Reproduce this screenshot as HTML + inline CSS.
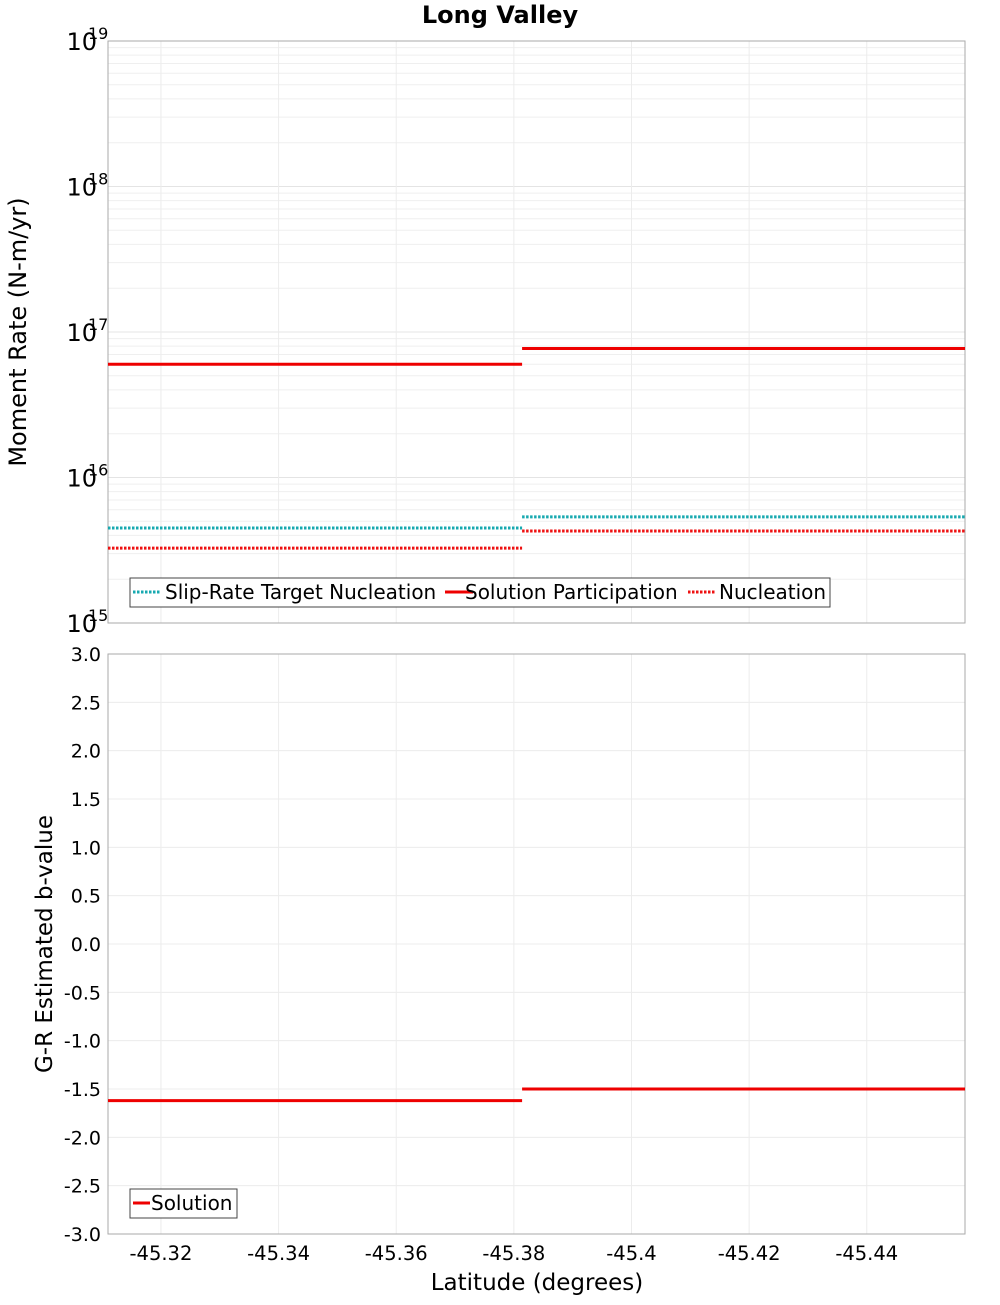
<!DOCTYPE html>
<html><head><meta charset="utf-8"><style>
body{margin:0;background:#fff;}
svg text{font-family:"DejaVu Sans","Liberation Sans",sans-serif;}
</style></head><body>
<svg id="c" width="1000" height="1300" xmlns="http://www.w3.org/2000/svg"></svg>
<script>
const xTicks=[-45.32,-45.34,-45.36,-45.38,-45.4,-45.42,-45.44];
const xTickLabels=["-45.32","-45.34","-45.36","-45.38","-45.4","-45.42","-45.44"];
const segEdges=[-45.311,-45.3814,-45.4567];
const slipTarget=[4.5e15,5.36e15];
const solutionPart=[6.0e16,7.7e16];
const nucleation=[3.27e15,4.29e15];
const bValues=[-1.62,-1.50];
const decades=[15,16,17,18,19];
const bTicks=[3,2.5,2,1.5,1,0.5,0,-0.5,-1,-1.5,-2,-2.5,-3];
const bTickLabels=["3.0","2.5","2.0","1.5","1.0","0.5","0.0","-0.5","-1.0","-1.5","-2.0","-2.5","-3.0"];

const NS="http://www.w3.org/2000/svg",svg=document.getElementById('c');
function mk(t,a,p){const e=document.createElementNS(NS,t);for(const k in a)e.setAttribute(k,a[k]);(p||svg).appendChild(e);return e;}
const L=108,R=965,T1=41,B1=623,T2=654,B2=1234;
const xs=v=>L+(v-segEdges[0])/(segEdges[2]-segEdges[0])*(R-L);
const ys1=v=>B1-(Math.log10(v)-15)/4*(B1-T1);
const ys2=v=>B2-(v+3)/6*(B2-T2);

let t=mk('text',{x:500,y:23,'text-anchor':'middle','font-size':24,'font-weight':'bold'});t.textContent='Long Valley';



for(let d=15;d<19;d++)for(let m=1;m<10;m++){const y=ys1(m*Math.pow(10,d));
 const g=mk('line',{x1:L,x2:R,y1:y,y2:y,stroke:m==1?'#e4e4e4':'#efefef','stroke-width':1});
 }
bTicks.forEach(v=>{const g=mk('line',{x1:L,x2:R,y1:ys2(v),y2:ys2(v),stroke:'#ececec'});
 });
xTicks.forEach((v,i)=>{[[T1,B1],[T2,B2]].forEach(p=>{const g=mk('line',{x1:xs(v),x2:xs(v),y1:p[0],y2:p[1],stroke:'#ececec'});
 });
 const tl=mk('text',{x:xs(v),y:1260,'text-anchor':'middle','font-size':19.5});tl.textContent=xTickLabels[i];
 });
let f=mk('rect',{x:L,y:T1,width:R-L,height:B1-T1,fill:'none',stroke:'#aaa'});

f=mk('rect',{x:L,y:T2,width:R-L,height:B2-T2,fill:'none',stroke:'#aaa'});


decades.forEach(d=>{const y=ys1(Math.pow(10,d));
 const a=mk('text',{x:97,y:y+9,'text-anchor':'end','font-size':24});a.textContent='10';
 
 const b=mk('text',{x:88,y:y-2,'font-size':16});b.textContent=String(d);
 });
bTicks.forEach((v,i)=>{const a=mk('text',{x:101,y:ys2(v)+7,'text-anchor':'end','font-size':19});a.textContent=bTickLabels[i];
 });

t=mk('text',{x:0,y:0,'text-anchor':'middle','font-size':24,transform:'translate(26,332) rotate(-90)'});t.textContent='Moment Rate (N-m/yr)';

t=mk('text',{x:0,y:0,'text-anchor':'middle','font-size':23,transform:'translate(52,944) rotate(-90)'});t.textContent='G-R Estimated b-value';

t=mk('text',{x:537,y:1290,'text-anchor':'middle','font-size':23});t.textContent='Latitude (degrees)';


function steps(vals,ys,col,dash,name){for(let i=0;i<vals.length;i++){
 const l=mk('line',{x1:xs(segEdges[i]),x2:xs(segEdges[i+1]),y1:ys(vals[i]),y2:ys(vals[i]),stroke:col,'stroke-width':3,'stroke-dasharray':dash||'none'});
 }}
steps(slipTarget,ys1,'#17a9b0','2.5,1.5','slip-rate-target-segment');
steps(nucleation,ys1,'#ee1111','2.5,1.5','nucleation-segment');
steps(solutionPart,ys1,'#ee0000',null,'solution-participation-segment');
steps(bValues,ys2,'#ee0000',null,'b-value-segment');

let lg=mk('rect',{x:130,y:578,width:700,height:29,fill:'#fff',stroke:'#444'});

[[133,'#17a9b0','2.5,1.5','Slip-Rate Target Nucleation',165],[445,'#ee0000','none','Solution Participation',465],[688,'#ee1111','2.5,1.5','Nucleation',719]].forEach(e=>{
 const l=mk('line',{x1:e[0],x2:e[0]+28,y1:592,y2:592,stroke:e[1],'stroke-width':3,'stroke-dasharray':e[2]});
 
 const tx=mk('text',{x:e[4],y:599,'font-size':20});tx.textContent=e[3];
 });
lg=mk('rect',{x:130,y:1189,width:107,height:29,fill:'#fff',stroke:'#444'});

let l=mk('line',{x1:133,x2:150,y1:1203,y2:1203,stroke:'#ee0000','stroke-width':3});

t=mk('text',{x:151,y:1210,'font-size':20});t.textContent='Solution';

</script>
</body></html>
